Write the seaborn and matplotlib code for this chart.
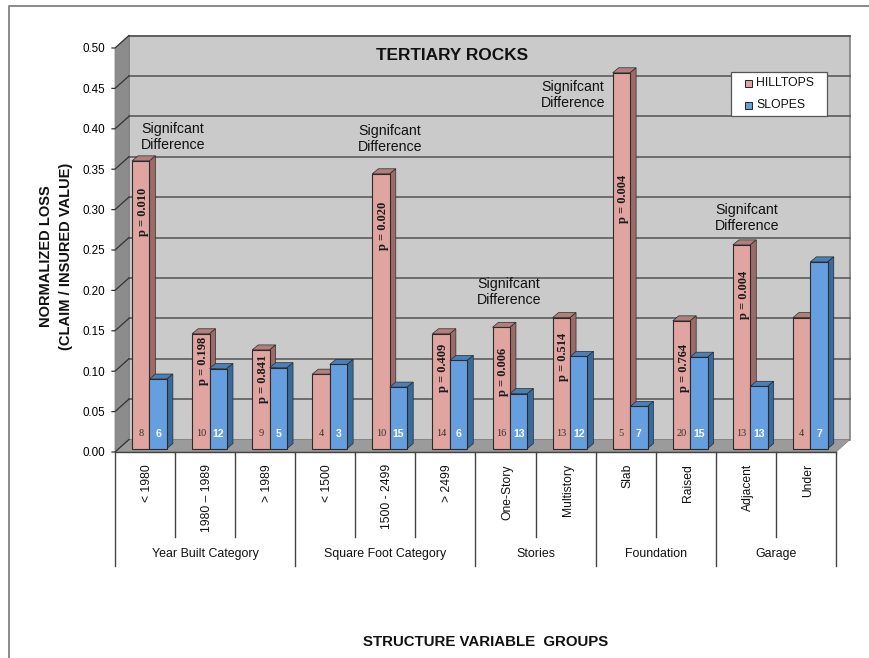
import matplotlib
matplotlib.use("Agg")
import matplotlib.pyplot as plt
from matplotlib.lines import Line2D
from matplotlib.patches import Polygon, Rectangle
from matplotlib.transforms import IdentityTransform, ScaledTranslation
import pandas as pd
import seaborn as sns

# Loss figures per structure variable
levels = ["< 1980", "1980 – 1989", "> 1989", "< 1500", "1500 - 2499", "> 2499",
          "One-Story", "Multistory", "Slab", "Raised", "Adjacent", "Under"]
hilltops = [0.356, 0.142, 0.122, 0.092, 0.340, 0.142, 0.150, 0.162, 0.465, 0.158, 0.252, 0.162]
slopes = [0.086, 0.099, 0.100, 0.104, 0.076, 0.109, 0.068, 0.114, 0.052, 0.113, 0.077, 0.231]
n_hilltops = [8, 10, 9, 4, 10, 14, 16, 13, 5, 20, 13, 4]
n_slopes = [6, 12, 5, 3, 15, 6, 13, 12, 7, 15, 13, 7]
p_values = ["0.010", "0.198", "0.841", None, "0.020", "0.409",
            "0.006", "0.514", "0.004", "0.764", "0.004", None]
group_names = ["Year Built Category", "Square Foot Category", "Stories", "Foundation", "Garage"]
group_edges = [0, 3, 6, 8, 10, 12]

plt.rcParams["font.family"] = ["Liberation Sans", "DejaVu Sans"]
W, H = 870, 658
fig = plt.figure(figsize=(W / 100, H / 100), dpi=100, facecolor="white")
pixels = IdentityTransform()

# Front plane of the plot box, in pixels from the top left
left, right, base, top = 115, 836, 452, 48
ax = fig.add_axes([left / W, 1 - base / H, (right - left) / W, (base - top) / H])
ax.patch.set_visible(False)
sns.despine(ax=ax, top=True, right=True, left=True, bottom=True)


def flat(points, **style):
    """Add a polygon given in pixels, unclipped."""
    ax.add_patch(Polygon(points, transform=pixels, clip_on=False, **style))


DX, DY = 14, 12.5
yb, yt = H - base, H - top

# Back wall, side wall and floor of the box
flat([(left + DX, yb + DY), (right + DX, yb + DY), (right + DX, yt + DY), (left + DX, yt + DY)],
     fc="#cacaca", ec="#808080", lw=1.2, zorder=1)
flat([(left, yb), (left + DX, yb + DY), (left + DX, yt + DY), (left, yt)],
     fc="#8c8c8c", ec="#808080", lw=0.5, zorder=1.1)
flat([(left, yb), (right, yb), (right + DX, yb + DY), (left + DX, yb + DY)],
     fc="#9b9b9b", ec="#808080", lw=0.5, zorder=1.2)

# Gridlines run along the back wall and step down the side wall to the ticks
yticks = [i * 0.05 for i in range(11)]
for v in yticks:
    py = yb + (yt - yb) * v / 0.5
    if v > 0:
        ax.add_line(Line2D([left + DX, right + DX], [py + DY] * 2, transform=pixels,
                           color="#525252", lw=1.1, clip_on=False, zorder=1.5))
    ax.add_line(Line2D([left - 3, left, left + DX], [py, py, py + DY], transform=pixels,
                       color="#333333", lw=0.9, clip_on=False, zorder=1.6))

# Front faces of the bars
frame = pd.DataFrame({
    "level": list(range(12)) * 2,
    "series": ["HILLTOPS"] * 12 + ["SLOPES"] * 12,
    "loss": hilltops + slopes,
})
palette = {"HILLTOPS": "#e0a5a0", "SLOPES": "#659fdf"}
sns.barplot(data=frame, x="level", y="loss", hue="series", hue_order=["HILLTOPS", "SLOPES"],
            palette=palette, native_scale=True, width=0.58, gap=0, saturation=1,
            edgecolor="#2b2b2b", linewidth=0.8, legend=False, ax=ax)
ax.set_xlim(-0.5, 11.5)
ax.set_ylim(0, 0.5)

# Bars stand a little behind the front plane; each gets a top and a side face
shift_x, shift_y = 4.4, 3.5
bar_shift = ax.transData + ScaledTranslation(shift_x / 100, shift_y / 100, fig.dpi_scale_trans)
bar_dx, bar_dy = 6, 5
shades = {"HILLTOPS": ("#b27f7c", "#9b6b68"), "SLOPES": ("#4a7fb8", "#386a9b")}
for name, container in zip(["HILLTOPS", "SLOPES"], ax.containers):
    top_col, side_col = shades[name]
    z = 2.5 if name == "HILLTOPS" else 3.5
    for patch in container:
        x, w, h = patch.get_x(), patch.get_width(), patch.get_height()
        patch.set_transform(bar_shift)
        patch.set_zorder(z)
        patch.set_clip_on(False)
        X0, Y0 = ax.transData.transform((x, 0)) + (shift_x, shift_y)
        X1, Y1 = ax.transData.transform((x + w, h)) + (shift_x, shift_y)
        flat([(X0, Y1), (X1, Y1), (X1 + bar_dx, Y1 + bar_dy), (X0 + bar_dx, Y1 + bar_dy)],
             fc=top_col, ec="#2b2b2b", lw=0.5, zorder=z - 0.1)
        flat([(X1, Y0), (X1, Y1), (X1 + bar_dx, Y1 + bar_dy), (X1 + bar_dx, Y0 + bar_dy)],
             fc=side_col, ec="#2b2b2b", lw=0.5, zorder=z - 0.1)

# Sample counts at the foot of each bar and p values rotated on the hilltop bars
half = 0.58 / 4
p_heights = [0.293, 0.108, 0.086, None, 0.275, 0.100, 0.095, 0.114, 0.309, 0.100, 0.190, None]
for i in range(12):
    ax.text(i - half, 0.018, f"{n_hilltops[i]}", transform=bar_shift, ha="center", va="center",
            fontsize=7.5, family="Liberation Serif", color="#3a3030", zorder=5)
    ax.text(i + half, 0.018, f"{n_slopes[i]}", transform=bar_shift, ha="center", va="center",
            fontsize=7.6, fontweight="bold", color="white", zorder=5)
    if p_values[i]:
        ax.text(i - half + 0.035, p_heights[i], f"p = {p_values[i]}", transform=bar_shift, rotation=90,
                ha="center", va="center", fontsize=9, family="Liberation Serif",
                fontweight="bold", color="#1a1a1a", zorder=5)

# Notes above the significant bars
note_centres = [(173, 137), (390, 139), (509, 292), (573, 95), (747, 218)]
for px, py in note_centres:
    fig.text(px / W, 1 - py / H, "Signifcant\nDifference", ha="center", va="center",
             fontsize=10.2, color="#111111", linespacing=1.15)

fig.text(452 / W, 1 - 56 / H, "TERTIARY ROCKS", ha="center", va="center",
         fontsize=12.4, fontweight="bold", color="#111111")

# Value axis labels
ax.set_xticks([])
ax.set_yticks(yticks)
ax.set_yticklabels([f"{v:.2f}" for v in yticks], fontsize=8.4, color="black")
ax.tick_params(axis="y", length=0, pad=7)
ax.set_xlabel("")
ax.set_ylabel("")
fig.text(56 / W, 1 - 256 / H, "NORMALIZED LOSS\n(CLAIM / INSURED VALUE)", rotation=90,
         ha="center", va="center", fontsize=10.5, fontweight="bold", color="#111111", linespacing=1.55)
fig.text(486 / W, 1 - 642 / H, "STRUCTURE VARIABLE  GROUPS", ha="center", va="center",
         fontsize=10.8, fontweight="bold", color="#111111")

# Two-tier category axis beneath the box
step = (right - left) / 12
for i in range(13):
    px = left + i * step
    bottom_y = 566 if i in group_edges else 537
    fig.add_artist(Line2D([px / W] * 2, [1 - 452 / H, 1 - bottom_y / H], color="#444444", lw=1))
fig.add_artist(Line2D([left / W, right / W], [1 - 452 / H] * 2, color="#444444", lw=1))
for i, label in enumerate(levels):
    fig.text((left + (i + 0.5) * step + 2) / W, 1 - 464 / H, label, rotation=90, ha="center", va="top",
             fontsize=8.7, color="#111111")
for name, a, b in zip(group_names, group_edges[:-1], group_edges[1:]):
    fig.text((left + (a + b) / 2 * step) / W, 1 - 554 / H, name, ha="center", va="center",
             fontsize=8.9, color="#111111")

# Legend box
fig.add_artist(Rectangle((731 / W, 1 - 116 / H), 96 / W, 44 / H, fc="white", ec="#555555", lw=0.9,
                         transform=fig.transFigure, zorder=7))
for name, py in [("HILLTOPS", 83), ("SLOPES", 105)]:
    fig.add_artist(Rectangle((745.5 / W, 1 - (py + 3.5) / H), 6.5 / W, 6.5 / H, fc=palette[name], ec="#222222",
                             lw=0.7, transform=fig.transFigure, zorder=8))
    fig.text(756 / W, 1 - py / H, name, ha="left", va="center", fontsize=8.8, color="#111111", zorder=8)

# Page frame, open on the right and at the bottom
fig.add_artist(Line2D([9 / W, 9 / W, 1], [0, 1 - 6 / H, 1 - 6 / H], color="#8a8a8a", lw=1.4))

fig.savefig("out.png", dpi=100)
